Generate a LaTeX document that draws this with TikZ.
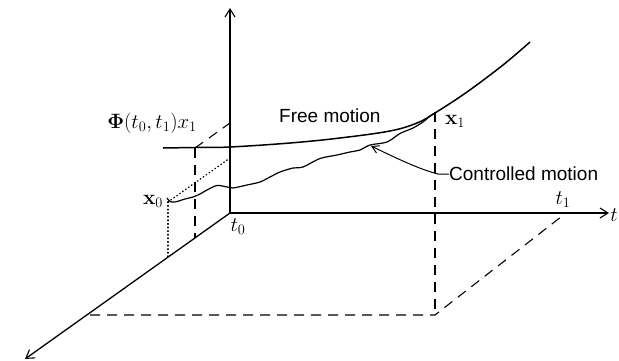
\documentclass[tikz,border=0pt]{standalone}
\usepackage[no-math]{fontspec}
\newfontfamily\labfont{Liberation Sans}
\usetikzlibrary{arrows.meta}
\begin{document}
\begin{tikzpicture}[x=1pt,y=-1pt,
  axis/.style={line width=1.3pt,-{Straight Barb[length=8pt,width=10pt,line width=1.1pt]}},
  curve/.style={line width=1.5pt},
  guide/.style={line width=1.1pt,dash pattern=on 10pt off 7pt},
  dotguide/.style={line width=1.4pt,dash pattern=on 0.6pt off 3pt,line cap=round},
  mathlab/.style={inner sep=0pt,font=\fontsize{20.74}{24}\selectfont},
  textlab/.style={inner sep=0pt,font=\labfont\fontsize{19}{22}\selectfont}]
\useasboundingbox (0,0) rectangle (619,361);
% coordinates
\coordinate (O) at (230,213);
\coordinate (Vtop) at (230,8);
\coordinate (Tend) at (609,213);
\coordinate (Dend) at (25,359);
\coordinate (D1) at (90,315);
\coordinate (D2) at (435,315);
\coordinate (T1) at (566,213);
\coordinate (X1) at (435,112);
\coordinate (X0) at (168,202);
\coordinate (X0b) at (168,259);
\coordinate (X0v) at (230,158);
\coordinate (P) at (195,148);
\coordinate (Pb) at (195,238);
\coordinate (Pv) at (230,123);
\coordinate (tip) at (371,146);
% axes
\draw[axis] (O) -- (Vtop);
\draw[axis] (O) -- (Tend);
\draw[axis] (O) -- (Dend);
% guides
\draw[guide] (D1) -- (D2) -- (T1);
\draw[guide] (X1) -- (D2);
\draw[guide] (P) -- (Pb);
\draw[guide] (P) -- (Pv);
\draw[dotguide] (X0) -- (X0b);
\draw[dotguide] (X0) -- (X0v);
% free motion
\draw[curve] plot[smooth,tension=0.6] coordinates {(163,148) (195,147.5) (230,147) (290,143) (340,138) (390,131) (417,123) (435,113) (467,92) (503,65) (530,42)};
% controlled motion
\draw[line width=1.2pt] plot[smooth,tension=0.5] coordinates {(167,198) (170,201.5) (175,202) (185,199) (193,197) (200,194) (207,190) (217,185.5) (227,187) (233,188) (247,185) (260,182) (270,177) (280,172) (293,168) (303,167) (320,158.5) (337,155) (350,152) (360,150) (370,145) (387,142) (400,133.5) (413,128) (423,122) (430,116) (435,113)};
% labels
\node[mathlab] (phi) at (152,123) {$\mathbf{\Phi}(t_0, t_1)x_1$};
\node[mathlab] (x0lab) at (153,201) {$\mathbf{x}_0$};
\node[mathlab] (x1lab) at (455,121) {$\mathbf{x}_1$};
\node[mathlab] (t0lab) at (238,227) {$t_0$};
\node[mathlab] (t1lab) at (563,200) {$t_1$};
\node[mathlab] (tlab) at (614,215) {$t$};
\node[textlab,anchor=base west] (free) at (279,122) {Free motion};
\node[textlab,anchor=west] (ctrl) at (449,174) {Controlled motion};
\draw[line width=1pt,-{Straight Barb[length=7pt,width=8pt,line width=1pt]}] (ctrl.west) -- ++(-11,0) .. controls (418,169) and (392,156) .. (tip);
\end{tikzpicture}
\end{document}
